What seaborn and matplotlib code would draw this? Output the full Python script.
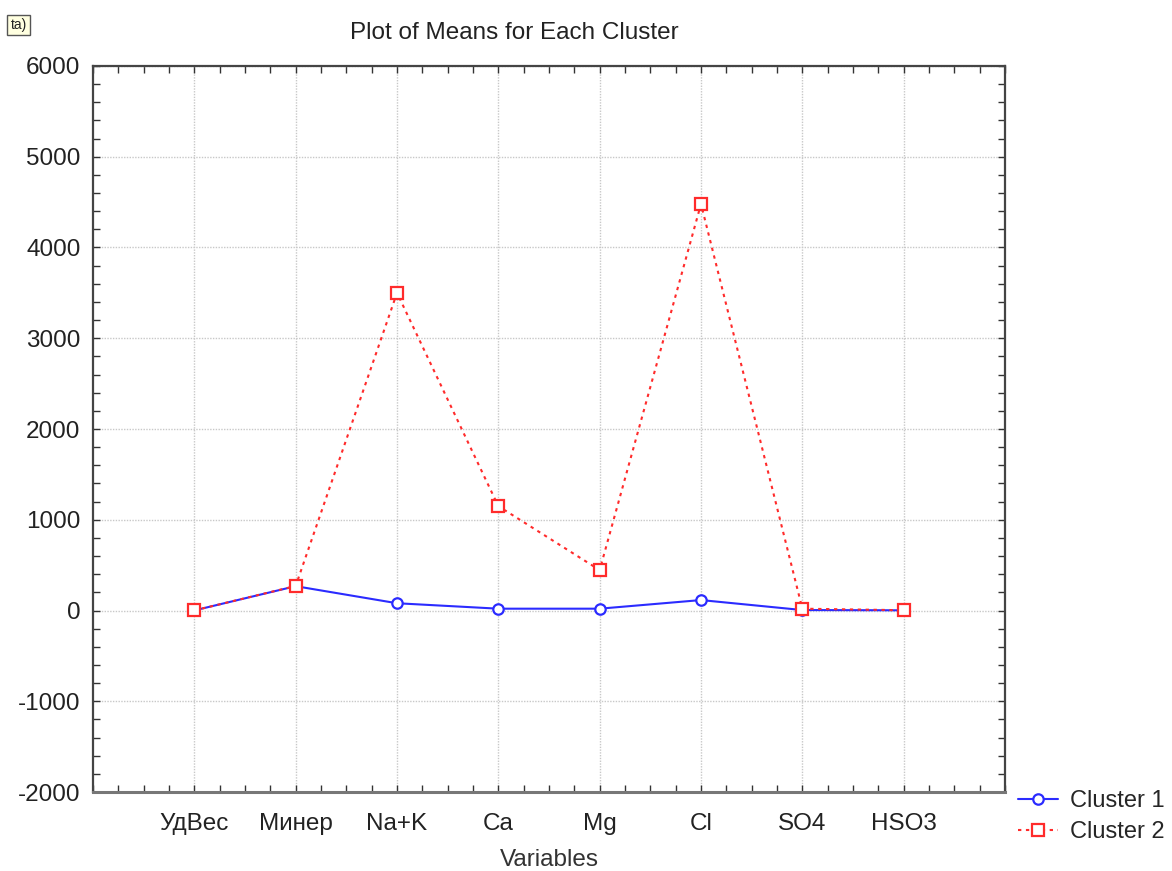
import matplotlib
matplotlib.use("Agg")
import matplotlib.pyplot as plt
from matplotlib.ticker import MultipleLocator, FixedLocator
import numpy as np
import pandas as pd
import seaborn as sns

categories = ["УдВес", "Минер", "Na+K", "Ca", "Mg", "Cl", "SO4", "HSO3"]
cluster_1 = [1, 268, 80, 20, 20, 115, 5, 2]
cluster_2 = [1, 270, 3500, 1150, 445, 4480, 20, 3]
cluster_names = ["Cluster 1", "Cluster 2"]
y_ticks = [-2000, -1000, 0, 1000, 2000, 3000, 4000, 5000, 6000]

BLUE = "#2b2bff"
RED = "#ff2b2b"

sns.set_theme(style="white")
plt.rcParams["font.family"] = ["Liberation Sans", "DejaVu Sans"]

df = pd.DataFrame({
    "Variable": categories * 2,
    "Mean": cluster_1 + cluster_2,
    "Cluster": [cluster_names[0]] * len(categories) + [cluster_names[1]] * len(categories),
})
df["pos"] = df["Variable"].map({c: i for i, c in enumerate(categories)})

fig = plt.figure(figsize=(11.72, 8.71), dpi=100)
ax = fig.add_axes([93 / 1172, 1 - 792 / 871, (1005 - 93) / 1172, (792 - 66) / 871])

sns.lineplot(
    data=df, x="pos", y="Mean", hue="Cluster", style="Cluster",
    palette={cluster_names[0]: BLUE, cluster_names[1]: RED},
    markers={cluster_names[0]: "o", cluster_names[1]: "s"},
    dashes={cluster_names[0]: "", cluster_names[1]: (1.6, 2.2)},
    linewidth=1.5, markersize=9, sort=False, legend=False, ax=ax,
)

lines = ax.lines[:2]
for line, ms in zip(lines, [7.5, 9]):
    line.set_markerfacecolor("white")
    line.set_markeredgecolor(line.get_color())
    line.set_markeredgewidth(1.6)
    line.set_markersize(ms)
lines[1].set_zorder(3)

ax.set_xlim(-1, 8)
ax.set_ylim(-2000, 6000)
ax.xaxis.set_major_locator(FixedLocator(range(len(categories))))
ax.set_xticks(range(len(categories)))
ax.set_xticklabels(categories)
ax.xaxis.set_minor_locator(MultipleLocator(0.25))
ax.set_yticks(y_ticks)
ax.set_yticklabels([str(v) for v in y_ticks])
ax.yaxis.set_minor_locator(MultipleLocator(200))

ax.tick_params(which="both", direction="in", top=True, right=True, bottom=True, left=True,
               length=5, width=1, color="#333333")
ax.tick_params(axis="both", which="major", labelsize=17.5, labelcolor="#222222", pad=9)
ax.tick_params(axis="x", which="major", pad=15)

ax.grid(True, which="major", color="#c8c8c8", linestyle=(0, (1, 1)), linewidth=1)
ax.set_axisbelow(True)
for side, sp in ax.spines.items():
    sp.set_color("#444444")
    sp.set_linewidth(1.6)
ax.spines["bottom"].set_color("#777777")
ax.spines["bottom"].set_linewidth(2.2)

ax.set_xlabel("Variables", fontsize=17.5, color="#333333", labelpad=10)
ax.set_ylabel("")

fig.text(514 / 1172, 1 - 33 / 871, "Plot of Means for Each Cluster", fontsize=17.5,
         color="#222222", ha="center", va="center")
fig.text(0.009, 1 - 25 / 871, "ta)", fontsize=10, color="#222222", ha="left", va="center",
         bbox=dict(boxstyle="square,pad=0.25", facecolor="#ffffe0", edgecolor="#555555", linewidth=1))

fig.legend(lines, cluster_names, loc="upper left", bbox_to_anchor=(1018 / 1172, 1 - 790 / 871),
           frameon=False, fontsize=17, handlelength=1.7, handletextpad=0.5, labelspacing=0.4,
           borderpad=0, borderaxespad=0)

fig.savefig("out.png", dpi=100)
